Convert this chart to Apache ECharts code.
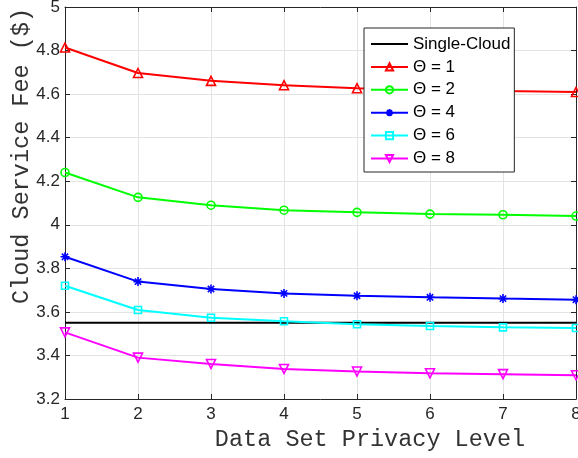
<!DOCTYPE html>
<html><head><meta charset="utf-8">
<script src="https://cdn.jsdelivr.net/npm/echarts@6/dist/echarts.min.js"></script>
<style>html,body{margin:0;padding:0;background:#fff}#c{width:578px;height:458px}</style>
</head><body><div id="c"></div>
<script>
const privacyLevels = [1, 2, 3, 4, 5, 6, 7, 8];
const singleCloud = [3.55, 3.55, 3.55, 3.55, 3.55, 3.55, 3.55, 3.55];
const theta1 = [4.814, 4.697, 4.661, 4.641, 4.627, 4.620, 4.614, 4.610];
const theta2 = [4.240, 4.126, 4.090, 4.067, 4.057, 4.049, 4.046, 4.040];
const theta4 = [3.853, 3.739, 3.705, 3.685, 3.674, 3.667, 3.661, 3.656];
const theta6 = [3.720, 3.609, 3.573, 3.557, 3.543, 3.535, 3.529, 3.526];
const theta8 = [3.506, 3.390, 3.361, 3.338, 3.326, 3.318, 3.314, 3.309];
const seriesNames = ['Single-Cloud', 'Θ = 1', 'Θ = 2', 'Θ = 4', 'Θ = 6', 'Θ = 8'];
const xLabel = 'Data Set Privacy Level';
const yLabel = 'Cloud Service Fee ($)';

const pts = arr => privacyLevels.map((x, i) => [x, arr[i]]);
const asterisk = 'path://M0,-10L0,10M-10,0L10,0M-7,-7L7,7M-7,7L7,-7';
const axisColor = '#262626';

function mk(name, data, color, symbol, size) {
  const none = !symbol;
  return {
    name, type: 'line', data: pts(data), clip: false,
    symbol: symbol || 'none', symbolSize: size || 8, showSymbol: !none,
    lineStyle: { color, width: 2 },
    itemStyle: none ? { color: 'rgba(0,0,0,0)', borderColor: 'rgba(0,0,0,0)', borderWidth: 0 }
      : { color: symbol === asterisk ? color : 'rgba(255,255,255,0)', borderColor: color, borderWidth: 1.6 },
    emphasis: { disabled: true }
  };
}

const chart = echarts.init(document.getElementById('c'), null, { renderer: 'canvas' });
chart.setOption({
  animation: false,
  backgroundColor: '#fff',
  grid: { left: 65, right: 2, top: 7, bottom: 59, outerBoundsMode: 'none', containLabel: false },
  xAxis: [{
    type: 'value', min: 1, max: 8, interval: 1,
    axisLine: { lineStyle: { color: axisColor, width: 1 } },
    axisTick: { inside: true, length: 5, lineStyle: { color: axisColor } },
    axisLabel: { color: axisColor, fontFamily: 'Liberation Sans', fontSize: 17, margin: 7 },
    splitLine: { show: true, lineStyle: { color: '#e3e3e3', width: 1 } }
  }, {
    type: 'value', min: 1, max: 8, interval: 1, position: 'top',
    axisLine: { show: true, lineStyle: { color: axisColor, width: 1 } },
    axisTick: { show: true, inside: true, length: 5, lineStyle: { color: axisColor } },
    axisLabel: { show: false }, splitLine: { show: false }
  }],
  yAxis: [{
    type: 'value', min: 3.2, max: 5, interval: 0.2,
    axisLine: { show: true, lineStyle: { color: axisColor, width: 1 } },
    axisTick: { show: true, inside: true, length: 5, lineStyle: { color: axisColor } },
    axisLabel: { color: axisColor, fontFamily: 'Liberation Sans', fontSize: 17, margin: 5,
      formatter: v => String(+v.toFixed(1)) },
    splitLine: { show: true, lineStyle: { color: '#e3e3e3', width: 1 } }
  }, {
    type: 'value', min: 3.2, max: 5, interval: 0.2, position: 'right',
    axisLine: { show: true, lineStyle: { color: axisColor, width: 1 } },
    axisTick: { show: true, inside: true, length: 5, lineStyle: { color: axisColor } },
    axisLabel: { show: false }, splitLine: { show: false }
  }],
  legend: {
    orient: 'vertical', left: 364, top: 28,
    padding: [7.5, 4, 5, 6], itemWidth: 37, itemHeight: 9, itemGap: 5.9,
    backgroundColor: '#fff', borderColor: axisColor, borderWidth: 1,
    textStyle: { color: '#000', fontFamily: 'Liberation Sans', fontSize: 17 },
    data: seriesNames
  },
  series: [
    mk(seriesNames[0], singleCloud, '#000000', null),
    mk(seriesNames[1], theta1, '#ff0000', 'triangle', 9),
    mk(seriesNames[2], theta2, '#00ff00', 'circle', 8),
    mk(seriesNames[3], theta4, '#0000ff', asterisk, 9),
    mk(seriesNames[4], theta6, '#00ffff', 'rect', 7),
    {...mk(seriesNames[5], theta8, '#ff00ff', 'triangle', 9), symbolRotate: 180}
  ],
  graphic: [
    { type: 'text', x: 370, y: 440, style: { text: xLabel, font: '23.5px "Liberation Mono"', fill: '#333', align: 'center', verticalAlign: 'middle' } },
    { type: 'text', x: 22, y: 156, rotation: Math.PI / 2, style: { text: yLabel, font: '23.5px "Liberation Mono"', fill: '#333', align: 'center', verticalAlign: 'middle' } }
  ]
});
</script></body></html>
